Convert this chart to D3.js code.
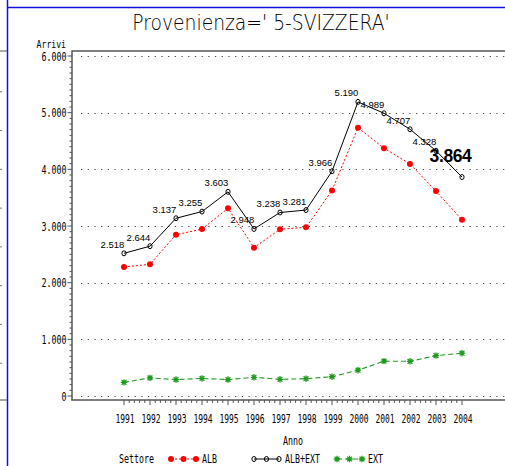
<!DOCTYPE html>
<html>
<head>
<meta charset="utf-8">
<script src="https://cdn.jsdelivr.net/npm/d3@7"></script>
<style>
  html, body { margin: 0; padding: 0; background: #fff; }
  svg { display: block; }
</style>
</head>
<body>
<script>
// data
const anni = [1991, 1992, 1993, 1994, 1995, 1996, 1997, 1998, 1999, 2000, 2001, 2002, 2003, 2004];
const albExt = [2518, 2644, 3137, 3255, 3603, 2948, 3238, 3281, 3966, 5190, 4989, 4707, 4328, 3864];
const alb = [2278, 2324, 2847, 2945, 3313, 2618, 2943, 2976, 3626, 4735, 4374, 4095, 3616, 3109];
const ext = [240, 320, 290, 310, 290, 330, 295, 305, 340, 455, 615, 612, 712, 755];
const yTicks = [0, 1000, 2000, 3000, 4000, 5000, 6000];
const legendItems = ["ALB", "ALB+EXT", "EXT"];

const W = 505, H = 466;
const MONO = "'DejaVu Sans Mono', monospace";
const it = d3.formatLocale({ decimal: ",", thousands: ".", grouping: [3] });
const fmt = it.format(",d");

const svg = d3.select("body").append("svg")
    .attr("width", W)
    .attr("height", H);

const x = d3.scaleLinear().domain([1991, 2004]).range([124, 462]);
const y = d3.scaleLinear().domain([0, 6000]).range([396, 56]);
const axisX = 72, axisY = 400, frameTop = 51;

// sas font is mono and narrow: squeeze each string to ~5px per char
function squeeze(sel, perChar) {
    sel.attr("textLength", function () { return this.textContent.length * perChar; })
        .attr("lengthAdjust", "spacingAndGlyphs");
}

// page decorations (window borders)
svg.append("line").attr("x1", 7.5).attr("x2", 7.5).attr("y1", 0).attr("y2", H)
    .attr("stroke", "#1010e0").attr("stroke-width", 1.5);
svg.append("line").attr("x1", 7).attr("x2", W).attr("y1", 7.5).attr("y2", 7.5)
    .attr("stroke", "#1010e0").attr("stroke-width", 1.5);
[frameTop, axisY].forEach(v => {
    svg.append("line").attr("x1", 0).attr("x2", 7).attr("y1", v).attr("y2", v)
        .attr("stroke", "#555");
});
const side = d3.scaleLinear().domain([0, 9]).range([frameTop, axisY]);
d3.range(1, 9).forEach(i => {
    svg.append("line").attr("x1", 0).attr("x2", 2).attr("y1", side(i) + 2).attr("y2", side(i) + 2)
        .attr("stroke", "#777");
});

// title (thin, tall, letter spaced)
svg.append("text")
    .attr("x", 261).attr("y", 29.5)
    .attr("text-anchor", "middle")
    .style("font-family", "'DejaVu Sans', sans-serif")
    .style("font-weight", 200)
    .style("font-size", "22px")
    .text("Provenienza=' 5-SVIZZERA'")
    .call(squeeze, 10.3);

// grid (dotted)
svg.append("g").selectAll("line")
    .data(yTicks)
    .join("line")
    .attr("x1", 81).attr("x2", W)
    .attr("y1", d => Math.round(y(d)) + 0.5).attr("y2", d => Math.round(y(d)) + 0.5)
    .attr("stroke", "#444")
    .attr("stroke-dasharray", "1.2,5.5");

// frame
svg.append("path")
    .attr("d", `M${W},${frameTop}H${axisX}V${axisY}H${W}`)
    .attr("fill", "none").attr("stroke", "#555").attr("stroke-width", 1.5);

// y axis ticks
const yMinor = d3.range(0, 6001, 100).filter(v => v % 1000 !== 0);
svg.append("g").selectAll("line")
    .data(yMinor)
    .join("line")
    .attr("x1", axisX - 2.5).attr("x2", axisX)
    .attr("y1", d => y(d)).attr("y2", d => y(d))
    .attr("stroke", "#555");
svg.append("g").selectAll("line")
    .data(yTicks)
    .join("line")
    .attr("x1", axisX - 4.5).attr("x2", axisX)
    .attr("y1", d => y(d)).attr("y2", d => y(d))
    .attr("stroke", "#555");
svg.append("g").selectAll("text")
    .data(yTicks)
    .join("text")
    .attr("x", 66.5).attr("y", d => y(d) + 4.5)
    .attr("text-anchor", "end")
    .style("font-family", MONO).style("font-size", "11.5px")
    .text(d => fmt(d))
    .call(squeeze, 5);
svg.append("text")
    .attr("x", 66).attr("y", 47.5)
    .attr("text-anchor", "end")
    .style("font-family", MONO).style("font-size", "11px")
    .text("Arrivi")
    .call(squeeze, 4.9);

// x axis ticks
const xMinor = d3.range(0, 13 * 5 + 1).map(i => 1991 + i / 5).filter((v, i) => i % 5 !== 0);
svg.append("g").selectAll("line")
    .data(xMinor)
    .join("line")
    .attr("x1", d => x(d)).attr("x2", d => x(d))
    .attr("y1", axisY).attr("y2", axisY + 3)
    .attr("stroke", "#555");
svg.append("g").selectAll("line")
    .data(anni)
    .join("line")
    .attr("x1", d => x(d)).attr("x2", d => x(d))
    .attr("y1", axisY).attr("y2", axisY + 5)
    .attr("stroke", "#555");
svg.append("g").selectAll("text")
    .data(anni)
    .join("text")
    .attr("x", d => x(d) + 1).attr("y", 422.5)
    .attr("text-anchor", "middle")
    .style("font-family", MONO).style("font-size", "11.5px")
    .text(d => d)
    .call(squeeze, 4.8);
svg.append("text")
    .attr("x", 293).attr("y", 445)
    .attr("text-anchor", "middle")
    .style("font-family", MONO).style("font-size", "11.5px")
    .text("Anno")
    .call(squeeze, 5);

// markers
const RED = "#ff0000", GREEN = "#1f9a1f";
function star(g, cx, cy) {
    const r = 3.2, d = r * 0.75;
    g.append("path")
        .attr("d", `M${cx - r},${cy}H${cx + r}M${cx},${cy - r}V${cy + r}M${cx - d},${cy - d}L${cx + d},${cy + d}M${cx - d},${cy + d}L${cx + d},${cy - d}`)
        .attr("stroke", GREEN).attr("stroke-width", 1.3);
}

const line = d3.line().x(d => x(d[0])).y(d => y(d[1]));

// EXT
const gExt = svg.append("g");
gExt.append("path")
    .datum(anni.map((a, i) => [a, ext[i]]))
    .attr("d", line)
    .attr("fill", "none").attr("stroke", GREEN).attr("stroke-width", 1.1)
    .attr("stroke-dasharray", "5,3");
anni.forEach((a, i) => star(gExt, x(a), y(ext[i])));

// ALB
const gAlb = svg.append("g");
gAlb.append("path")
    .datum(anni.map((a, i) => [a, alb[i]]))
    .attr("d", line)
    .attr("fill", "none").attr("stroke", RED).attr("stroke-width", 1)
    .attr("stroke-dasharray", "2,2");
gAlb.selectAll("circle")
    .data(anni)
    .join("circle")
    .attr("cx", d => x(d)).attr("cy", (d, i) => y(alb[i]))
    .attr("r", 3)
    .attr("fill", RED);

// ALB+EXT
const gTot = svg.append("g");
gTot.append("path")
    .datum(anni.map((a, i) => [a, albExt[i]]))
    .attr("d", line)
    .attr("fill", "none").attr("stroke", "#000").attr("stroke-width", 1);
gTot.selectAll("ellipse")
    .data(anni)
    .join("ellipse")
    .attr("cx", d => x(d)).attr("cy", (d, i) => y(albExt[i]))
    .attr("rx", 2.1).attr("ry", 2.5)
    .attr("fill", "none").attr("stroke", "#000").attr("stroke-width", 1);

// value labels
const last = anni.length - 1;
gTot.selectAll("text")
    .data(anni)
    .join("text")
    .attr("x", (d, i) => x(d) - 11.5)
    .attr("y", (d, i) => y(albExt[i]) - (i === last ? 15 : 5.5))
    .attr("text-anchor", "middle")
    .style("font-family", "'Liberation Sans', Arial, sans-serif")
    .style("font-size", (d, i) => i === last ? "17.5px" : "9.5px")
    .style("font-weight", (d, i) => i === last ? "bold" : "normal")
    .style("letter-spacing", (d, i) => i === last ? "-0.4px" : "0px")
    .text((d, i) => fmt(albExt[i]));

// legend
const ly = 459;
svg.append("text")
    .attr("x", 119).attr("y", ly + 4)
    .style("font-family", MONO).style("font-size", "11.5px")
    .text("Settore")
    .call(squeeze, 5);
const legX = [170, 253, 336];
legendItems.forEach((name, k) => {
    const x0 = legX[k], pts = [x0 + 1, x0 + 13.5, x0 + 26];
    const g = svg.append("g");
    if (k === 0) {
        g.append("line").attr("x1", pts[0]).attr("x2", pts[2]).attr("y1", ly).attr("y2", ly)
            .attr("stroke", RED).attr("stroke-dasharray", "2,2");
        pts.forEach(p => g.append("circle").attr("cx", p).attr("cy", ly).attr("r", 3).attr("fill", RED));
    } else if (k === 1) {
        g.append("line").attr("x1", pts[0]).attr("x2", pts[2]).attr("y1", ly).attr("y2", ly)
            .attr("stroke", "#000");
        pts.forEach(p => g.append("ellipse").attr("cx", p).attr("cy", ly).attr("rx", 2.1).attr("ry", 2.5)
            .attr("fill", "none").attr("stroke", "#000"));
    } else {
        g.append("line").attr("x1", pts[0]).attr("x2", pts[2]).attr("y1", ly).attr("y2", ly)
            .attr("stroke", GREEN).attr("stroke-dasharray", "5,3");
        pts.forEach(p => star(g, p, ly));
    }
    g.append("text")
        .attr("x", x0 + 32).attr("y", ly + 4)
        .style("font-family", MONO).style("font-size", "11.5px")
        .text(name)
        .call(squeeze, 5);
});
</script>
</body>
</html>
